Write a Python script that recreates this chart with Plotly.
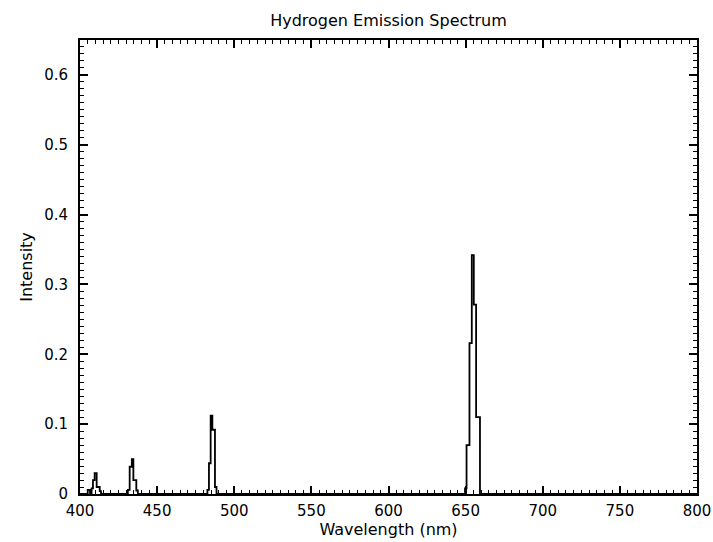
import plotly.graph_objects as go

# Spectrum data (step/histogram style): intensity holds from each wavelength to the next
wavelength = [400, 405, 406.5, 407.5, 408.4, 409.5, 410.8, 412.8, 413.6,
              431.0, 432.2, 433.6, 434.6, 436.5, 437.5,
              482.6, 483.6, 484.7, 485.8, 487.5, 488.5,
              649.6, 650.6, 652.5, 654.0, 655.3, 656.8, 659.3, 800]
intensity = [0.0, 0.006, 0.0, 0.008, 0.02, 0.03, 0.01, 0.004, 0.0,
             0.006, 0.039, 0.05, 0.02, 0.005, 0.0,
             0.006, 0.044, 0.112, 0.092, 0.01, 0.0,
             0.008, 0.07, 0.216, 0.342, 0.271, 0.11, 0.0, 0.0]

title_text = "Hydrogen Emission Spectrum"
x_title = "Wavelength (nm)"
y_title = "Intensity"

FONT = "DejaVu Sans"

fig = go.Figure()
fig.add_trace(go.Scatter(
    x=wavelength, y=intensity, mode="lines",
    line=dict(color="black", width=1.8, shape="hv"),
    showlegend=False, hoverinfo="skip",
))

axis_common = dict(
    showline=True, linecolor="black", linewidth=2, mirror="allticks",
    ticks="inside", tickcolor="black", tickwidth=1.5, ticklen=8,
    showgrid=False, zeroline=False, automargin=False,
    tickfont=dict(family=FONT, size=15, color="black"),
)

fig.update_layout(
    width=713, height=542,
    paper_bgcolor="white", plot_bgcolor="white",
    margin=dict(l=80, r=16, t=40, b=48, autoexpand=False),
    title=dict(text=title_text, x=0.5, xanchor="center", y=0.963, yanchor="middle",
               xref="paper", yref="container",
               font=dict(family=FONT, size=16, color="black")),
    xaxis=dict(range=[400, 800], dtick=50, tick0=400,
               title=dict(text=x_title, standoff=0,
                          font=dict(family=FONT, size=16, color="black")),
               minor=dict(ticks="inside", dtick=5, ticklen=4, tickcolor="black", tickwidth=1),
               ticklabeloverflow="allow", ticklabelstandoff=2,
               **axis_common),
    yaxis=dict(range=[0, 0.65], dtick=0.1, tick0=0,
               title=dict(text=y_title, standoff=8,
                          font=dict(family=FONT, size=16, color="black")),
               minor=dict(ticks="inside", dtick=0.01, ticklen=4, tickcolor="black", tickwidth=1),
               ticklabelstandoff=7,
               **axis_common),
)

fig.write_html(
    "out.html",
    config={"displayModeBar": False},
    post_script="document.body.style.margin='0';document.body.style.overflow='hidden';",
)
